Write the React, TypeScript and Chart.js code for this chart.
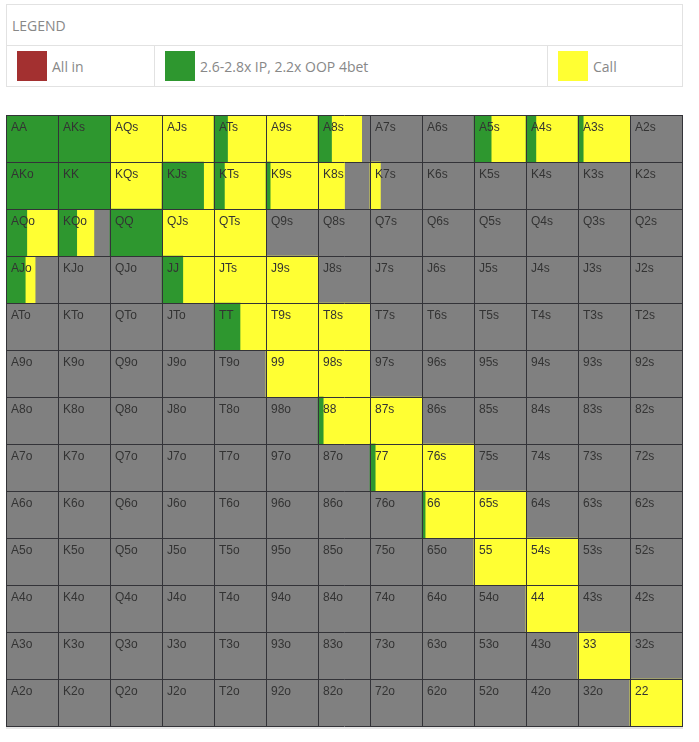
import React, { useEffect, useRef } from 'react';
import { Chart, registerables } from 'chart.js';

Chart.register(...registerables);

// Row / column ranks of the hand matrix
const ranks = ['A', 'K', 'Q', 'J', 'T', '9', '8', '7', '6', '5', '4', '3', '2'];

// Legend entries
const actionNames = ['All in', '2.6-2.8x IP, 2.2x OOP 4bet', 'Call'];

// Fraction of each hand that goes all in (none)
const allInFreq: number[][] = [
  [0, 0, 0, 0, 0, 0, 0, 0, 0, 0, 0, 0, 0],
  [0, 0, 0, 0, 0, 0, 0, 0, 0, 0, 0, 0, 0],
  [0, 0, 0, 0, 0, 0, 0, 0, 0, 0, 0, 0, 0],
  [0, 0, 0, 0, 0, 0, 0, 0, 0, 0, 0, 0, 0],
  [0, 0, 0, 0, 0, 0, 0, 0, 0, 0, 0, 0, 0],
  [0, 0, 0, 0, 0, 0, 0, 0, 0, 0, 0, 0, 0],
  [0, 0, 0, 0, 0, 0, 0, 0, 0, 0, 0, 0, 0],
  [0, 0, 0, 0, 0, 0, 0, 0, 0, 0, 0, 0, 0],
  [0, 0, 0, 0, 0, 0, 0, 0, 0, 0, 0, 0, 0],
  [0, 0, 0, 0, 0, 0, 0, 0, 0, 0, 0, 0, 0],
  [0, 0, 0, 0, 0, 0, 0, 0, 0, 0, 0, 0, 0],
  [0, 0, 0, 0, 0, 0, 0, 0, 0, 0, 0, 0, 0],
  [0, 0, 0, 0, 0, 0, 0, 0, 0, 0, 0, 0, 0],
];

// Fraction of each hand that 4bets
const fourBetFreq: number[][] = [
  [1, 1, 0, 0, 0.26, 0, 0.26, 0, 0, 0.33, 0.19, 0.1, 0],
  [1, 1, 0, 0.8, 0.2, 0.08, 0, 0, 0, 0, 0, 0, 0],
  [0.4, 0.36, 1, 0, 0, 0, 0, 0, 0, 0, 0, 0, 0],
  [0.37, 0, 0, 0.4, 0, 0, 0, 0, 0, 0, 0, 0, 0],
  [0, 0, 0, 0, 0.5, 0, 0, 0, 0, 0, 0, 0, 0],
  [0, 0, 0, 0, 0, 0, 0, 0, 0, 0, 0, 0, 0],
  [0, 0, 0, 0, 0, 0, 0.1, 0, 0, 0, 0, 0, 0],
  [0, 0, 0, 0, 0, 0, 0, 0.1, 0, 0, 0, 0, 0],
  [0, 0, 0, 0, 0, 0, 0, 0, 0.06, 0, 0, 0, 0],
  [0, 0, 0, 0, 0, 0, 0, 0, 0, 0, 0, 0, 0],
  [0, 0, 0, 0, 0, 0, 0, 0, 0, 0, 0, 0, 0],
  [0, 0, 0, 0, 0, 0, 0, 0, 0, 0, 0, 0, 0],
  [0, 0, 0, 0, 0, 0, 0, 0, 0, 0, 0, 0, 0],
];

// Fraction of each hand that calls
const callFreq: number[][] = [
  [0, 0, 1, 1, 0.74, 1, 0.58, 0, 0, 0.67, 0.81, 0.9, 0],
  [0, 0, 1, 0.2, 0.8, 0.92, 0.51, 0.2, 0, 0, 0, 0, 0],
  [0.6, 0.33, 0, 1, 1, 0, 0, 0, 0, 0, 0, 0, 0],
  [0.19, 0, 0, 0.6, 1, 1, 0, 0, 0, 0, 0, 0, 0],
  [0, 0, 0, 0, 0.5, 1, 1, 0, 0, 0, 0, 0, 0],
  [0, 0, 0, 0, 0, 1, 1, 0, 0, 0, 0, 0, 0],
  [0, 0, 0, 0, 0, 0, 0.9, 1, 0, 0, 0, 0, 0],
  [0, 0, 0, 0, 0, 0, 0, 0.9, 1, 0, 0, 0, 0],
  [0, 0, 0, 0, 0, 0, 0, 0, 0.94, 1, 0, 0, 0],
  [0, 0, 0, 0, 0, 0, 0, 0, 0, 1, 1, 0, 0],
  [0, 0, 0, 0, 0, 0, 0, 0, 0, 0, 1, 0, 0],
  [0, 0, 0, 0, 0, 0, 0, 0, 0, 0, 0, 1, 0],
  [0, 0, 0, 0, 0, 0, 0, 0, 0, 0, 0, 0, 1],
];

const COLORS = {
  allIn: '#a33030',
  fourBet: '#2e972f',
  call: '#ffff33',
  fold: '#808080',
  grid: '#333338',
  label: '#333333',
};

function handLabel(r: number, c: number): string {
  if (r === c) return ranks[r] + ranks[c];
  if (r < c) return ranks[r] + ranks[c] + 's';
  return ranks[c] + ranks[r] + 'o';
}

function buildDatasets() {
  const series = [
    { label: actionNames[0], freq: allInFreq, color: COLORS.allIn },
    { label: actionNames[1], freq: fourBetFreq, color: COLORS.fourBet },
    { label: actionNames[2], freq: callFreq, color: COLORS.call },
  ];
  const common = {
    grouped: false,
    barPercentage: 1,
    categoryPercentage: 1,
    borderWidth: 0,
  };
  const datasets: any[] = series.map((s) => ({
    ...common,
    label: s.label,
    backgroundColor: s.color,
    data: [] as any[],
  }));
  const fold: any = { ...common, label: 'Fold', backgroundColor: COLORS.fold, data: [] };
  for (let r = 0; r < ranks.length; r++) {
    for (let c = 0; c < ranks.length; c++) {
      let start = c;
      series.forEach((s, i) => {
        const w = s.freq[r][c];
        if (w > 0) {
          datasets[i].data.push({ x: [start, start + w], y: ranks[r] });
          start += w;
        }
      });
      if (start < c + 1 - 1e-6) fold.data.push({ x: [start, c + 1], y: ranks[r] });
    }
  }
  return [...datasets, fold];
}

const gridPlugin = {
  id: 'handGrid',
  afterDatasetsDraw(chart: any) {
    const { ctx, scales } = chart;
    const xs = scales.x;
    const ys = scales.y;
    const n = ranks.length;
    const half = (ys.getPixelForValue(1) - ys.getPixelForValue(0)) / 2;
    const top = ys.getPixelForValue(0) - half;
    const bottom = ys.getPixelForValue(n - 1) + half;
    const left = xs.getPixelForValue(0);
    const right = xs.getPixelForValue(n);
    ctx.save();
    // labels
    ctx.font = '12px "Liberation Sans", Arial, sans-serif';
    ctx.fillStyle = COLORS.label;
    ctx.textBaseline = 'alphabetic';
    ctx.textAlign = 'left';
    for (let r = 0; r < n; r++) {
      const cellTop = ys.getPixelForValue(r) - half;
      for (let c = 0; c < n; c++) {
        ctx.fillText(handLabel(r, c), xs.getPixelForValue(c) + 5, cellTop + 16);
      }
    }
    // grid lines
    ctx.strokeStyle = COLORS.grid;
    ctx.lineWidth = 1;
    ctx.beginPath();
    for (let k = 0; k <= n; k++) {
      const x = Math.round(xs.getPixelForValue(k)) + 0.5;
      ctx.moveTo(x, Math.round(top));
      ctx.lineTo(x, Math.round(bottom) + 1);
      const y = Math.round(top + k * half * 2) + 0.5;
      ctx.moveTo(Math.round(left), y);
      ctx.lineTo(Math.round(right) + 1, y);
    }
    ctx.stroke();
    ctx.restore();
  },
};

function RangeChart() {
  const ref = useRef<HTMLCanvasElement | null>(null);
  useEffect(() => {
    if (!ref.current) return;
    const chart = new Chart(ref.current, {
      type: 'bar',
      data: { labels: ranks, datasets: buildDatasets() },
      options: {
        indexAxis: 'y',
        animation: false,
        responsive: false,
        maintainAspectRatio: false,
        devicePixelRatio: 1,
        events: [],
        layout: { padding: { left: 6, right: 17, top: 15, bottom: 16 } },
        scales: {
          x: { type: 'linear', min: 0, max: ranks.length, display: false },
          y: { type: 'category', labels: ranks, offset: true, display: false },
        },
        plugins: {
          legend: { display: false },
          tooltip: { enabled: false },
          title: { display: false },
        },
      } as any,
      plugins: [gridPlugin],
    });
    return () => chart.destroy();
  }, []);
  return (
    <canvas
      ref={ref}
      width={699}
      height={642}
      style={{ position: 'absolute', left: 0, top: 100, width: 699, height: 642 }}
    />
  );
}

const legendFont = '"Open Sans", "Noto Sans", sans-serif';

function Legend() {
  const swatchColors = [COLORS.allIn, COLORS.fourBet, COLORS.call];
  const cells = [
    { left: 0, width: 148 },
    { left: 148, width: 393 },
    { left: 541, width: 134 },
  ];
  return (
    <div
      style={{
        position: 'absolute',
        left: 6,
        top: 4,
        width: 675,
        height: 81,
        border: '1px solid #e2e2e2',
        fontFamily: legendFont,
        fontSize: 14,
        color: '#888',
      }}
    >
      <div
        style={{
          position: 'absolute',
          left: 0,
          top: 0,
          width: 675,
          height: 41,
          borderBottom: '1px solid #e2e2e2',
          display: 'flex',
          alignItems: 'center',
          paddingLeft: 5,
          boxSizing: 'border-box',
        }}
      >
        LEGEND
      </div>
      {cells.map((cell, i) => (
        <div
          key={i}
          style={{
            position: 'absolute',
            left: cell.left,
            top: 41,
            width: cell.width,
            height: 40,
            boxSizing: 'border-box',
            borderRight: i < 2 ? '1px solid #e2e2e2' : 'none',
            display: 'flex',
            alignItems: 'center',
            paddingLeft: 10,
          }}
        >
          <span
            style={{
              display: 'inline-block',
              width: 30,
              height: 30,
              background: swatchColors[i],
              marginRight: 5,
              flexShrink: 0,
            }}
          />
          <span>{actionNames[i]}</span>
        </div>
      ))}
    </div>
  );
}

export default function App() {
  return (
    <div style={{ position: 'absolute', left: 0, top: 0, width: 699, height: 742, background: '#fff' }}>
      <Legend />
      <RangeChart />
      <div
        style={{
          position: 'absolute',
          left: 6,
          top: 727,
          width: 677,
          height: 2,
          background: '#e6e6e6',
        }}
      />
    </div>
  );
}
